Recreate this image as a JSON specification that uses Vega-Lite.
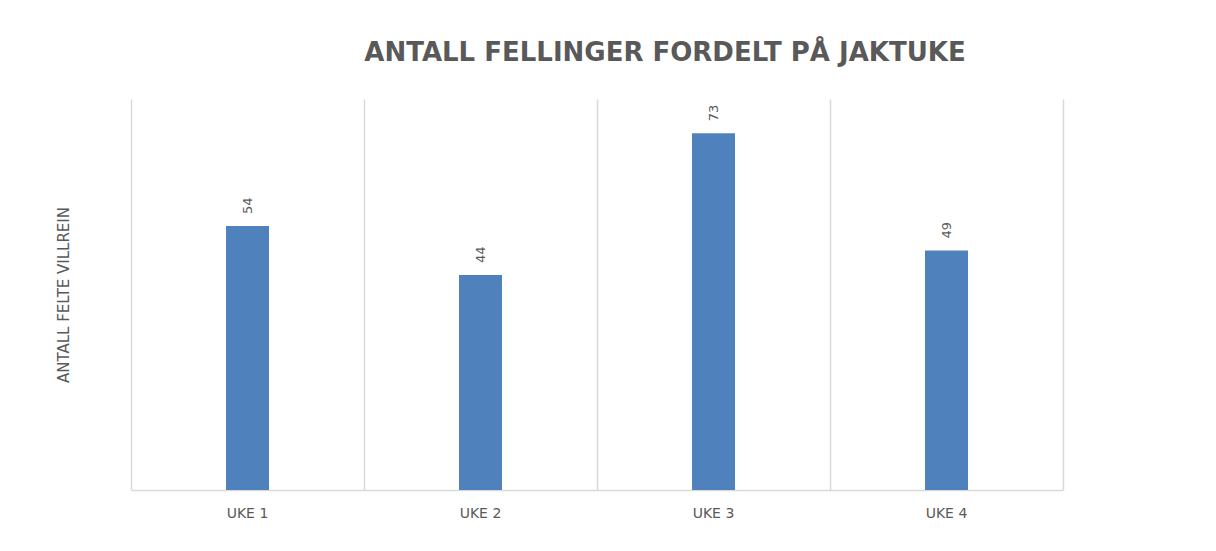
{
  "$schema": "https://vega.github.io/schema/vega-lite/v6.json",
  "autosize": "none",
  "width": 932,
  "height": 391,
  "padding": {"left": 131, "top": 99, "right": 153, "bottom": 61},
  "background": "white",
  "config": {"view": {"stroke": null}},
  "title": {
    "text": "ANTALL FELLINGER FORDELT PÅ JAKTUKE",
    "font": "DejaVu Sans",
    "fontSize": 26,
    "fontWeight": 600,
    "color": "#595959",
    "anchor": "middle",
    "dx": 68,
    "offset": 33
  },
  "data": {
    "values": [
      {"uke": "UKE 1", "antall": 54},
      {"uke": "UKE 2", "antall": 44},
      {"uke": "UKE 3", "antall": 73},
      {"uke": "UKE 4", "antall": 49}
    ]
  },
  "encoding": {
    "x": {
      "field": "uke",
      "type": "nominal",
      "sort": null,
      "scale": {"paddingInner": 0, "paddingOuter": 0},
      "axis": {
        "title": null,
        "labelAngle": 0,
        "labelFont": "DejaVu Sans",
        "labelFontSize": 14,
        "labelColor": "#595959",
        "labelPadding": 16,
        "ticks": false,
        "domainColor": "#D9D9D9",
        "domainWidth": 1.5,
        "grid": true,
        "gridColor": "#D9D9D9",
        "gridWidth": 1.5,
        "bandPosition": 0
      }
    }
  },
  "layer": [
    {
      "mark": {"type": "bar", "color": "#4F81BD", "size": 43},
      "encoding": {
        "y": {
          "field": "antall",
          "type": "quantitative",
          "scale": {"domain": [0, 80]},
          "axis": {
            "title": "ANTALL FELTE VILLREIN",
            "titleFont": "DejaVu Sans",
            "titleFontSize": 15,
            "titleFontWeight": "normal",
            "titleColor": "#595959",
            "titlePadding": 60,
            "labels": false,
            "ticks": false,
            "domain": false,
            "grid": false
          }
        }
      }
    },
    {
      "mark": {
        "type": "text",
        "angle": 270,
        "align": "left",
        "baseline": "middle",
        "dx": 12,
        "font": "DejaVu Sans",
        "fontSize": 13,
        "color": "#595959"
      },
      "encoding": {
        "y": {"field": "antall", "type": "quantitative", "scale": {"domain": [0, 80]}, "axis": {"orient": "right", "title": null, "labels": false, "ticks": false, "grid": false, "domain": true, "domainColor": "#D9D9D9", "domainWidth": 1.5}},
        "text": {"field": "antall", "type": "quantitative"}
      }
    }
  ],
  "resolve": {"axis": {"y": "independent"}}
}
